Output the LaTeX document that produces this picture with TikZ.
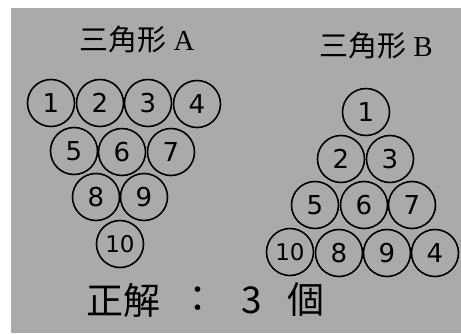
\documentclass[tikz,border=0pt]{standalone}
\usepackage{fontspec}
\setmainfont{Liberation Serif}
\newfontfamily\cjk{Noto Sans CJK TC}
\newfontfamily\digitfont{DejaVu Sans}
\definecolor{scangray}{RGB}{170,170,170}
\tikzset{
  ball/.style={circle, draw=black, line width=1.6pt, minimum size=47pt, inner sep=0pt,
    font=\digitfont\fontsize{26}{26}\selectfont},
  smallball/.style={ball, font=\digitfont\fontsize{23}{23}\selectfont},
  title/.style={font=\fontsize{29}{29}\selectfont, inner sep=0pt},
  answer/.style={font=\cjk\fontsize{37}{37}\selectfont, inner sep=0pt}
}
\begin{document}
\begin{tikzpicture}[x=1pt,y=-1pt]
\useasboundingbox (0,0) rectangle (461,333);
\fill[white] (0,0) rectangle (461,333);
\fill[scangray] (11,8) rectangle (461,333);
% titles
\node[title] (tA) at (137,40) {{\cjk 三角形} A};
\node[title] (tB) at (376,46) {{\cjk 三角形} B};
% triangle A
\node[ball] (a1) at (51,103) {1};
\node[ball] (a2) at (100,103) {2};
\node[ball] (a3) at (148,103) {3};
\node[ball] (a4) at (197,104) {4};
\node[ball] (a5) at (74,151) {5};
\node[ball] (a6) at (122,152) {6};
\node[ball] (a7) at (171,152) {7};
\node[ball] (a8) at (96,197) {8};
\node[ball] (a9) at (144,197) {9};
\node[smallball] (a10) at (120,244) {10};
% triangle B
\node[ball] (b1) at (366,112) {1};
\node[ball] (b2) at (341,159) {2};
\node[ball] (b3) at (390,159) {3};
\node[ball] (b5) at (315,205) {5};
\node[ball] (b6) at (364,205) {6};
\node[ball] (b7) at (412,205) {7};
\node[smallball] (b10) at (290,252) {10};
\node[ball] (b8) at (339,253) {8};
\node[ball] (b9) at (387,253) {9};
\node[ball] (b4) at (435,253) {4};
% answer
\node[answer, anchor=west] (ans1) at (86,300) {正解};
\node[answer] (ans2) at (198,300) {：};
\node[answer] (ans3) at (252,300) {3};
\node[answer] (ans4) at (306,300) {個};
\end{tikzpicture}
\end{document}
